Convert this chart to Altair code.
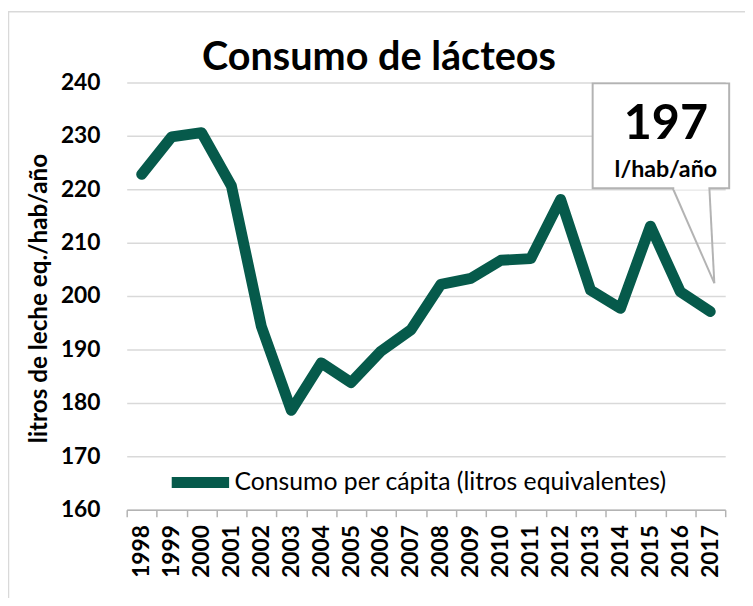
import altair as alt
import pandas as pd

# ---- data ----
years = [str(y) for y in range(1998, 2018)]
consumo = [222.8, 229.8, 230.6, 220.6, 194.3, 178.6, 187.5, 183.8, 189.7, 193.7,
           202.2, 203.3, 206.7, 207.0, 218.1, 201.1, 197.7, 213.1, 200.8, 197.1]
serie = "Consumo per cápita (litros equivalentes)"
title_text = "Consumo de lácteos"
y_title = "litros de leche eq./hab/año"
y_ticks = [160, 170, 180, 190, 200, 210, 220, 230, 240]
callout_value = "197"
callout_unit = "l/hab/año"

df = pd.DataFrame({"year": years, "value": consumo, "serie": serie})
one = alt.Data(values=[{"a": 1}])

GREEN = "#065a4b"
FONT = "Lato"
GRAY = "#b3b3b3"
W, H = 605, 432

line = alt.Chart(df).mark_line(strokeWidth=11, strokeCap="round", strokeJoin="round").encode(
    x=alt.X("year:O",
            scale=alt.Scale(type="band", paddingInner=0, paddingOuter=0),
            axis=alt.Axis(title=None, domainColor=GRAY, domainWidth=1.5, tickColor=GRAY,
                          tickWidth=1.5, tickSize=7, tickBand="extent", labelAngle=270,
                          labelFont=FONT, labelFontWeight="bold", labelFontSize=23,
                          labelColor="black", labelPadding=8, grid=False)),
    y=alt.Y("value:Q",
            scale=alt.Scale(domain=[160, 240], nice=False, zero=False),
            axis=alt.Axis(values=y_ticks, domain=False, ticks=False, gridColor="#d9d9d9",
                          gridWidth=1.5, labelPadding=27, labelFont=FONT, labelFontSize=23,
                          labelFontWeight="bold", labelColor="black", title=y_title,
                          titleFont=FONT, titleFontSize=24.5, titleFontWeight="bold",
                          titleColor="black", titleAngle=270, titleX=-81, titleY=218,
                          titleAlign="center", titleBaseline="alphabetic")),
    color=alt.Color("serie:N", scale=alt.Scale(domain=[serie], range=[GREEN]),
                    legend=alt.Legend(title=None, orient="none", legendX=40, legendY=370,
                                      symbolType="stroke", symbolStrokeWidth=11,
                                      symbolSize=3364, labelFont=FONT, labelFontSize=25,
                                      labelColor="black", labelOffset=0, labelLimit=0,
                                      padding=0)),
)

title = alt.Chart(one).mark_text(font=FONT, fontSize=40, fontWeight="bold", align="center",
                                 baseline="alphabetic", color="black").encode(
    x=alt.value(255), y=alt.value(-13), text=alt.value(title_text))

border = alt.Chart(one).mark_rect(fillOpacity=0, stroke="#d9d9d9", strokeWidth=1.5).encode(
    x=alt.value(-119.5), x2=alt.value(700), y=alt.value(-71.5), y2=alt.value(600))

box = alt.Chart(one).mark_rect(fill="white", stroke=GRAY, strokeWidth=2).encode(
    x=alt.value(471), x2=alt.value(609), y=alt.value(1), y2=alt.value(107))
tail1 = alt.Chart(one).mark_rule(stroke=GRAY, strokeWidth=2).encode(
    x=alt.value(552), y=alt.value(107), x2=alt.value(594), y2=alt.value(203))
tail2 = alt.Chart(one).mark_rule(stroke=GRAY, strokeWidth=2).encode(
    x=alt.value(589), y=alt.value(107), x2=alt.value(594), y2=alt.value(203))
cover = alt.Chart(one).mark_rule(stroke="white", strokeWidth=3).encode(
    x=alt.value(553.5), x2=alt.value(588), y=alt.value(107), y2=alt.value(107))
val_txt = alt.Chart(one).mark_text(font=FONT, fontSize=49, fontWeight="bold", align="center",
                                   baseline="alphabetic", color="black").encode(
    x=alt.value(545), y=alt.value(57), text=alt.value(callout_value))
unit_txt = alt.Chart(one).mark_text(font=FONT, fontSize=23.5, fontWeight="bold", align="center",
                                    baseline="alphabetic", color="black").encode(
    x=alt.value(545), y=alt.value(96), text=alt.value(callout_unit))

chart = alt.layer(border, line, title, box, tail1, tail2, cover, val_txt, unit_txt).properties(
    width=W, height=H,
    autosize=alt.AutoSizeParams(type="none"),
    padding={"left": 120, "top": 72, "right": 20, "bottom": 86},
    background="white",
).configure_view(strokeWidth=0)

chart.save("out.html", embed_options={"renderer": "svg", "actions": False})
